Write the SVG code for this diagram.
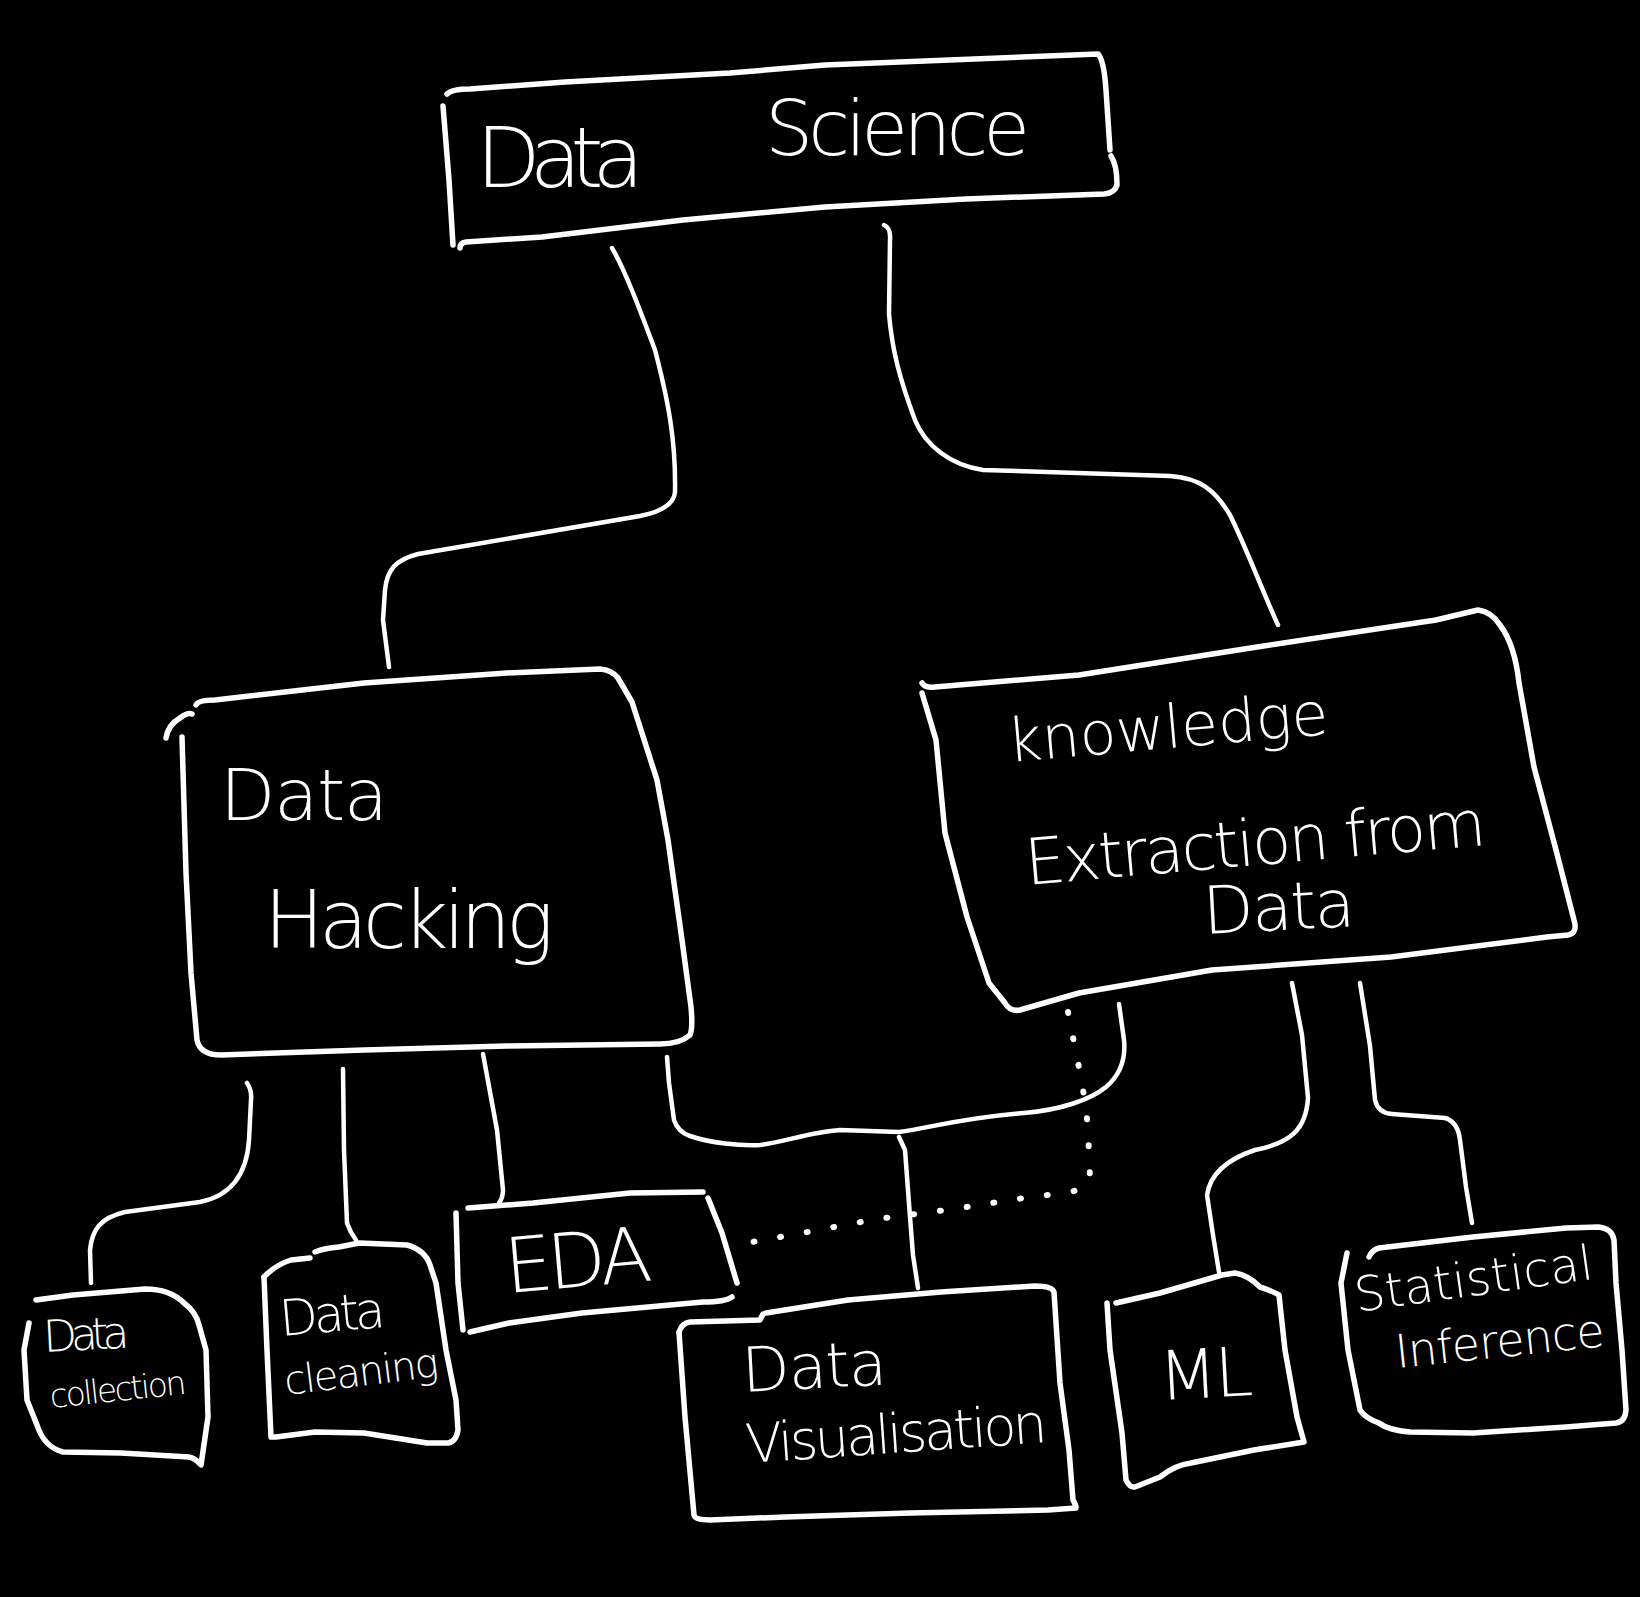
<svg xmlns="http://www.w3.org/2000/svg" width="1640" height="1597" viewBox="0 0 1640 1597">
<style>
.box{fill:none;stroke:#fff;stroke-width:5.5;stroke-linecap:round;stroke-linejoin:round}
.con{fill:none;stroke:#fff;stroke-width:4.5;stroke-linecap:round;stroke-linejoin:round}
.dot{fill:none;stroke:#fff;stroke-width:6;stroke-linecap:round;stroke-dasharray:1 26}
text{fill:#fff;font-family:"DejaVu Sans","Liberation Sans",sans-serif;font-weight:200}
</style>
<rect width="1640" height="1597" fill="#000"/>
<g id="connectors">
<path class="con" d="M612,248 C625,270 640,310 655,350 C668,400 676,440 675,492 C674,505 660,512 640,516 L418,554 C395,560 387,570 385,590 L383,620 L389,667"/>
<path class="con" d="M884,225 Q891,228 890,240 L889,314 C892,350 900,380 915,420 C925,445 950,465 983,470 L1170,476 C1200,478 1215,490 1230,515 C1245,545 1262,590 1278,625"/>
<path class="con" d="M247,1083 Q252,1090 251,1100 L249,1140 C247,1170 235,1195 200,1202 L125,1212 C100,1218 92,1230 90,1250 L91,1283"/>
<path class="con" d="M343,1069 L344,1150 L347,1223 Q350,1232 356,1240"/>
<path class="con" d="M483,1054 L497,1130 L503,1190 Q503,1198 499,1203"/>
<path class="con" d="M667,1057 L669,1083 L674,1120 Q678,1132 690,1136 C710,1143 740,1146 760,1145 C785,1142 810,1132 840,1130 L899,1132 C930,1128 960,1118 1024,1113 C1060,1110 1090,1100 1106,1087 C1120,1075 1126,1060 1124,1040 L1119,1004"/>
<path class="con" d="M899,1137 L905,1150 L910,1217 L913,1255 L918,1288"/>
<path class="dot" d="M1068,1012 C1075,1050 1085,1090 1088,1130 L1090,1178 Q1088,1190 1063,1193 L1017,1199 L954,1209 L877,1219 L802,1233 L730,1246"/>
<path class="con" d="M1292,983 L1302,1035 L1308,1098 C1306,1130 1290,1143 1255,1150 C1225,1160 1210,1175 1207,1195 L1213,1235 L1219,1272"/>
<path class="con" d="M1360,983 L1370,1046 L1375,1100 Q1378,1113 1392,1114 L1445,1118 Q1458,1122 1460,1140 L1466,1187 L1472,1223"/>
</g>
<g id="data-science">
<path class="box" d="M447,94 Q452,89 470,89 L565,82 L730,73 L825,65 L1098,54 Q1104,60 1106,90 L1110,150"/>
<path class="box" d="M1111,156 Q1117,165 1117,185 Q1115,193 1104,194 L966,199 L825,207 L683,220 L542,237 L466,242 Q460,243 460,248"/>
<path class="box" d="M443,106 L449,180 L453,245"/>
<text x="476" y="187" font-size="84" textLength="168">Data</text>
<text x="765" y="155" font-size="76" textLength="265">Science</text>
</g>
<g id="data-hacking">
<path class="box" d="M166,738 Q168,725 180,718 Q188,712 192,714"/>
<path class="box" d="M196,705 Q198,700 215,700 L364,683 L507,673 L600,669 Q612,670 618,678 L632,702 L657,780 L668,840 L682,940 L691,1007 Q693,1028 690,1035 Q680,1044 660,1044 L507,1046 L364,1050 L221,1055 Q200,1055 197,1040 L191,973 L186,873 L182,737"/>
<text x="220" y="820" font-size="72" textLength="168">Data</text>
<text x="264" y="948" font-size="80" textLength="290">Hacking</text>
</g>
<g id="knowledge-extraction">
<path class="box" d="M922,683 Q925,688 935,687 L1079,675 L1257,647 L1436,620 L1478,610 Q1492,612 1500,625 Q1515,645 1519,683 L1534,767 L1556,850 L1574,920 Q1578,933 1568,935 L1547,937 L1391,957 L1212,970 L1079,993 L1020,1010 Q1010,1012 1005,1003 L989,983 L967,917 L945,833 L936,740 L922,693"/>
<text x="1009" y="762" font-size="60" textLength="322" transform="rotate(-5 1009 762)">knowledge</text>
<text x="1027" y="885" font-size="64" textLength="462" transform="rotate(-5 1027 885)">Extraction from</text>
<text x="1204" y="934" font-size="66" textLength="152" transform="rotate(-3 1204 934)">Data</text>
</g>
<g id="data-collection">
<path class="box" d="M36,1300 L73,1295 L145,1289 Q170,1289 184,1303 Q196,1312 199,1325 L206,1350 L208,1417 L201,1465 Q195,1458 189,1457 L121,1453 L63,1452 Q44,1447 37,1425 L27,1400 L24,1350 L29,1323"/>
<text x="44" y="1352" font-size="44" textLength="86" transform="rotate(-3 44 1352)">Data</text>
<text x="51" y="1408" font-size="33" textLength="137" transform="rotate(-6 51 1408)">collection</text>
</g>
<g id="data-cleaning">
<path class="box" d="M264,1277 Q275,1265 291,1260 L310,1258"/>
<path class="box" d="M315,1252 Q325,1248 339,1247 L359,1243 L407,1245 Q425,1250 430,1265 L436,1283 L446,1350 L456,1400 L458,1430 Q456,1442 448,1443 L427,1443 L364,1433 L315,1432 L276,1437 L271,1437 L267,1350 L264,1277"/>
<text x="281" y="1336" font-size="50" textLength="106" transform="rotate(-5 281 1336)">Data</text>
<text x="286" y="1395" font-size="40" textLength="155" transform="rotate(-7 286 1395)">cleaning</text>
</g>
<g id="eda">
<path class="box" d="M468,1208 L533,1203 L630,1193 L703,1192"/>
<path class="box" d="M708,1198 L722,1233 L737,1283"/>
<path class="box" d="M732,1297 Q725,1302 703,1302 L582,1313 L509,1323 L470,1332"/>
<path class="box" d="M456,1213 L458,1283 L463,1330"/>
<text x="507" y="1293" font-size="76" textLength="147" transform="rotate(-5 507 1293)">EDA</text>
</g>
<g id="data-visualisation">
<path class="box" d="M679,1332 Q682,1323 690,1322 L760,1320 L763,1314"/>
<path class="box" d="M766,1313 L848,1300 L941,1292 L1035,1286 Q1052,1286 1054,1292 L1060,1383 L1069,1450 L1073,1500 Q1076,1505 1076,1508 L1048,1510 L910,1513 L785,1517 L710,1520 Q695,1520 694,1515 L685,1417 L679,1332"/>
<text x="743" y="1392" font-size="62" textLength="145" transform="rotate(-3 743 1392)">Data</text>
<text x="747" y="1463" font-size="54" textLength="302" transform="rotate(-4 747 1463)">Visualisation</text>
</g>
<g id="ml">
<path class="box" d="M1116,1303 L1160,1293 L1222,1275 L1235,1273 Q1248,1275 1260,1287 Q1270,1290 1279,1295 L1285,1350 L1297,1417 L1304,1442 L1254,1450 L1191,1463 Q1175,1465 1160,1477 L1135,1487 Q1130,1488 1126,1480 L1122,1433 L1110,1350 L1107,1303"/>
<text x="1160" y="1400" font-size="68" textLength="94" transform="rotate(-3 1160 1400)">ML</text>
</g>
<g id="statistical-inference">
<path class="box" d="M1369,1257 Q1372,1250 1379,1248 L1473,1237 L1566,1228 L1598,1227 Q1612,1228 1614,1240 L1616,1283 L1622,1350 L1626,1410 Q1625,1422 1616,1423 L1566,1427 L1473,1433 L1410,1432 Q1388,1430 1379,1423 Q1365,1418 1360,1410 L1348,1350 L1341,1283 L1347,1253"/>
<text x="1357" y="1312" font-size="48" textLength="240" transform="rotate(-8 1357 1312)">Statistical</text>
<text x="1397" y="1368" font-size="46" textLength="210" transform="rotate(-6 1397 1368)">Inference</text>
</g>
</svg>
